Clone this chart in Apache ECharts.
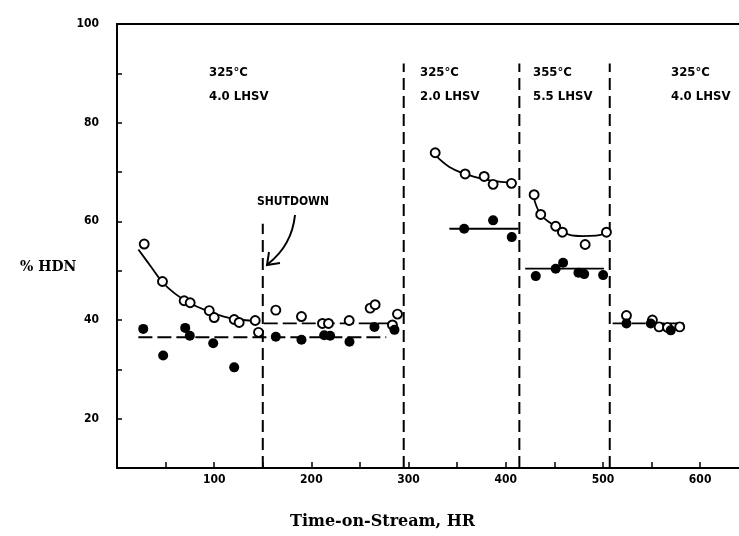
<!DOCTYPE html>
<html>
<head>
<meta charset="utf-8">
<script src="https://cdn.jsdelivr.net/npm/echarts@6/dist/echarts.min.js"></script>
<style>
  html, body { margin: 0; padding: 0; background: #fff; }
  #chart { width: 739px; height: 536px; }
</style>
</head>
<body>
<div id="chart"></div>
<script>
// ---- data ----
const openT1 = [28, 46.8, 69.1, 75.3, 94.9, 100, 120.6, 125.7, 142.2, 145.6];
const openV1 = [55.4, 47.8, 43.9, 43.5, 41.9, 40.5, 40.1, 39.5, 39.9, 37.5];
const openT2 = [163.4, 189.8, 211.4, 217.6, 238.9, 260.5, 265.6, 283.4, 288.6];
const openV2 = [42.0, 40.7, 39.3, 39.3, 39.9, 42.4, 43.1, 39.0, 41.2];
const openT3 = [327.4, 358.2, 377.8, 387, 405.9];
const openV3 = [73.9, 69.6, 69.1, 67.5, 67.7];
const openT4 = [429.2, 436, 451.4, 458.3, 481.7, 503.6];
const openV4 = [65.4, 61.4, 59.0, 57.8, 55.3, 57.8];
const openT5 = [524.2, 550.9, 557.8, 566.4, 579];
const openV5 = [40.9, 40.0, 38.6, 38.5, 38.6];

const fillT12 = [27, 47.5, 70.2, 74.9, 99, 120.6, 163.4, 189.8, 213.2, 219.3, 239.2, 264.9, 285.5];
const fillV12 = [38.2, 32.8, 38.4, 36.8, 35.3, 30.4, 36.6, 36.0, 36.9, 36.8, 35.6, 38.6, 38.0];
const fillT3 = [357.2, 387, 406.2];
const fillV3 = [58.5, 60.2, 56.8];
const fillT4 = [430.9, 451.4, 459, 474.8, 480.7, 500.2];
const fillV4 = [48.9, 50.4, 51.6, 49.6, 49.3, 49.1];
const fillT5 = [524.2, 549.2, 569.8];
const fillV5 = [39.3, 39.3, 37.9];

// fitted trend lines
const curve1T = [22, 35, 47, 60, 75, 95, 110, 125, 142];
const curve1V = [54.3, 50.8, 47.6, 45.3, 43.4, 41.7, 40.7, 40.1, 39.8];
const curve3T = [327, 342, 358, 378, 395, 410];
const curve3V = [73.5, 71, 69.6, 68.5, 68, 67.8];
const curve4T = [428.6, 436, 451, 465, 479, 493, 503];
const curve4V = [65, 61.4, 59, 57.3, 57, 57.1, 57.6];
const dashOpen2T = [151, 288];
const dashOpen2V = [39.3, 39.3];
const dashFill12T = [22, 277];
const dashFill12V = [36.5, 36.5];
const lineFill3T = [342, 413];
const lineFill3V = [58.5, 58.5];
const lineFill4T = [420, 501];
const lineFill4V = [50.4, 50.4];
const dash5T = [510, 583.5];
const dash5V = [39.3, 39.3];

// condition boundaries
const boundT = [150, 295, 414, 507];
const boundTop = [59.5, 92, 92, 92];
const yMin = 10, yMax = 100, xMin = 0, xMax = 640;

// annotation text
const condTemp = ['325°C', '325°C', '355°C', '325°C'];
const condLhsv = ['4.0 LHSV', '2.0 LHSV', '5.5 LHSV', '4.0 LHSV'];
const condX = [209, 420, 533, 671];

const zip = (a, b) => a.map((v, i) => [v, b[i]]);

const tickFont = '"DejaVu Sans Condensed", "DejaVu Sans", sans-serif';
const serif = '"DejaVu Serif", "Liberation Serif", serif';

function openSeries(t, v) {
  return { type: 'scatter', data: zip(t, v), symbol: 'circle', symbolSize: 9, z: 5,
    itemStyle: { color: '#fff', borderColor: '#000', borderWidth: 1.9, opacity: 1 }, silent: true };
}
function fillSeries(t, v) {
  return { type: 'scatter', data: zip(t, v), symbol: 'circle', symbolSize: 10, z: 6,
    itemStyle: { color: '#000', opacity: 1 }, silent: true };
}
function lineSeries(t, v, dashed, smooth) {
  return { type: 'line', data: zip(t, v), showSymbol: false, smooth: smooth || false, z: 3,
    lineStyle: { color: '#000', width: 1.8, type: dashed ? [14, 5] : 'solid' }, silent: true };
}

const series = [];
series.push(lineSeries(curve1T, curve1V, false, 0.4));
series.push(lineSeries(curve3T, curve3V, false, 0.4));
series.push(lineSeries(curve4T, curve4V, false, 0.4));
series.push(lineSeries(dashOpen2T, dashOpen2V, true));
series.push(lineSeries(dashFill12T, dashFill12V, true));
series.push(lineSeries(lineFill3T, lineFill3V, false));
series.push(lineSeries(lineFill4T, lineFill4V, false));
series.push(lineSeries(dash5T, dash5V, true));
boundT.forEach((t, i) => {
  series.push({ type: 'line', data: [[t, yMin], [t, boundTop[i]]], showSymbol: false, z: 2,
    lineStyle: { color: '#000', width: 2, type: [12, 6] }, silent: true });
});
series.push(openSeries(openT1, openV1));
series.push(openSeries(openT2, openV2));
series.push(openSeries(openT3, openV3));
series.push(openSeries(openT4, openV4));
series.push(openSeries(openT5, openV5));
series.push(fillSeries(fillT12, fillV12));
series.push(fillSeries(fillT3, fillV3));
series.push(fillSeries(fillT4, fillV4));
series.push(fillSeries(fillT5, fillV5));

const graphics = [];
condTemp.forEach((s, i) => {
  graphics.push({ type: 'text', left: condX[i], top: 66, style: { text: s, font: 'bold 13px ' + tickFont, fill: '#000' } });
  graphics.push({ type: 'text', left: condX[i], top: 90, style: { text: condLhsv[i], font: 'bold 13px ' + tickFont, fill: '#000' } });
});
graphics.push({ type: 'text', left: 257, top: 196, style: { text: 'SHUTDOWN', font: 'bold 12px ' + tickFont, fill: '#000' } });
graphics.push({ type: 'bezierCurve', shape: { x1: 295, y1: 215, cpx1: 292, cpy1: 245, x2: 268, y2: 264 },
  style: { stroke: '#000', lineWidth: 2, fill: null } });
graphics.push({ type: 'polyline', shape: { points: [[269, 252], [267, 265], [280, 263]] },
  style: { stroke: '#000', lineWidth: 2, fill: null } });
graphics.push({ type: 'text', left: 20, top: 260, style: { text: '% HDN', font: 'bold 14px ' + serif, fill: '#000' } });
graphics.push({ type: 'text', left: 290, top: 514, style: { text: 'Time-on-Stream, HR', font: 'bold 16px ' + serif, fill: '#000' } });

const chart = echarts.init(document.getElementById('chart'), null, { renderer: 'canvas' });
chart.setOption({
  animation: false,
  backgroundColor: '#fff',
  grid: { left: 117, right: 0, top: 24, bottom: 68, containLabel: false },
  xAxis: [{
    type: 'value', min: xMin, max: xMax, interval: 50,
    axisLine: { lineStyle: { color: '#000', width: 2 } },
    axisTick: { inside: true, length: 6, lineStyle: { color: '#000', width: 1.5 } },
    axisLabel: { color: '#000', fontFamily: tickFont, fontWeight: 'bold', fontSize: 12, margin: 6,
      showMaxLabel: false, formatter: v => (v > 0 && v % 100 === 0) ? String(v) : '' },
    splitLine: { show: false }
  }, {
    type: 'value', position: 'top', min: xMin, max: xMax,
    axisLine: { show: true, lineStyle: { color: '#000', width: 2 } },
    axisTick: { show: false }, axisLabel: { show: false }, splitLine: { show: false }
  }],
  yAxis: {
    type: 'value', min: yMin, max: yMax, interval: 10,
    axisLine: { show: true, lineStyle: { color: '#000', width: 2 } },
    axisTick: { inside: true, length: 5, lineStyle: { color: '#000', width: 1.5 } },
    axisLabel: { color: '#000', fontFamily: tickFont, fontWeight: 'bold', fontSize: 12, margin: 18,
      formatter: v => (v % 20 === 0) ? String(v) : '' },
    splitLine: { show: false }
  },
  series: series,
  graphic: graphics
});
</script>
</body>
</html>
